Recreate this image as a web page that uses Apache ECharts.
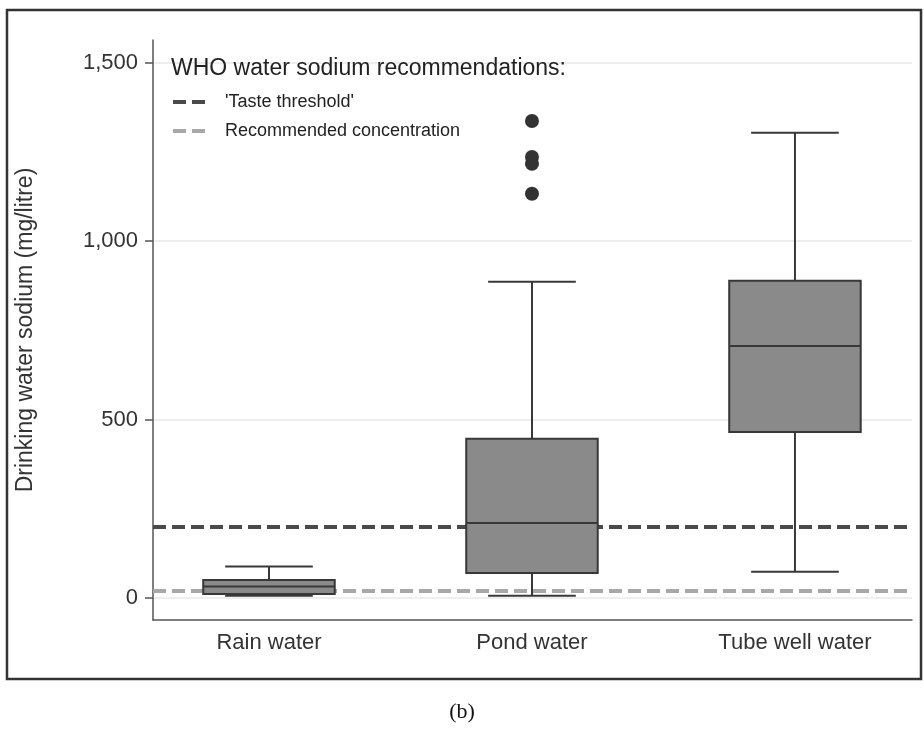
<!DOCTYPE html>
<html><head><meta charset="utf-8">
<script src="https://cdn.jsdelivr.net/npm/echarts@6/dist/echarts.min.js"></script>
<style>html,body{margin:0;padding:0;background:#fff}#chart{width:924px;height:731px}</style>
</head><body><div id="chart"></div>
<script>
const categories = ['Rain water', 'Pond water', 'Tube well water'];
const boxMin = [6, 6, 73];
const boxQ1 = [11, 70, 465];
const boxMedian = [32, 210, 706];
const boxQ3 = [50, 446, 889];
const boxMax = [88, 886, 1304];
const pondOutliers = [1337, 1236, 1217, 1133];
const yTicks = [0, 500, 1000, 1500];
const tasteThreshold = 200;
const recommendedConcentration = 20;

const boxData = categories.map((c, i) => [i + 1, boxMin[i], boxQ1[i], boxMedian[i], boxQ3[i], boxMax[i]]);
const outlierData = pondOutliers.map(v => [2, v]);

const FONT = 'Liberation Sans, Arial, sans-serif';
const EDGE = '#383838';
const DASH = [13, 6];

function renderBox(params, api) {
  const x = api.value(0);
  const pMin = api.coord([x, api.value(1)]);
  const pQ1 = api.coord([x, api.value(2)]);
  const pMed = api.coord([x, api.value(3)]);
  const pQ3 = api.coord([x, api.value(4)]);
  const pMax = api.coord([x, api.value(5)]);
  const boxW = api.size([0.5, 0])[0];
  const capW = api.size([1 / 3, 0])[0];
  const cx = pMed[0];
  const ls = { stroke: EDGE, lineWidth: 2 };
  return {
    type: 'group',
    children: [
      { type: 'line', shape: { x1: cx, y1: pQ3[1], x2: cx, y2: pMax[1] }, style: ls },
      { type: 'line', shape: { x1: cx - capW / 2, y1: pMax[1], x2: cx + capW / 2, y2: pMax[1] }, style: ls },
      { type: 'line', shape: { x1: cx, y1: pQ1[1], x2: cx, y2: pMin[1] }, style: ls },
      { type: 'line', shape: { x1: cx - capW / 2, y1: pMin[1], x2: cx + capW / 2, y2: pMin[1] }, style: ls },
      { type: 'rect', shape: { x: cx - boxW / 2, y: pQ3[1], width: boxW, height: pQ1[1] - pQ3[1] }, style: { fill: '#8a8a8a', stroke: EDGE, lineWidth: 2 } },
      { type: 'line', shape: { x1: cx - boxW / 2, y1: pMed[1], x2: cx + boxW / 2, y2: pMed[1] }, style: ls }
    ]
  };
}

const chart = echarts.init(document.getElementById('chart'));
chart.setOption({
  animation: false,
  backgroundColor: '#fff',
  title: {
    text: 'WHO water sodium recommendations:',
    left: 171, top: 57, padding: 0,
    textStyle: { fontSize: 23, fontWeight: 'normal', color: '#222', fontFamily: FONT }
  },
  legend: {
    left: 171, top: 93, orient: 'vertical', padding: 0,
    itemWidth: 33, itemHeight: 16, itemGap: 11,
    itemStyle: { opacity: 0 },
    lineStyle: { type: DASH, width: 4 },
    textStyle: { fontSize: 18, color: '#222', fontFamily: FONT, padding: [0, 0, 0, 14] },
    data: ["'Taste threshold'", 'Recommended concentration']
  },
  grid: { left: 153, right: 12, top: 40, bottom: 111, containLabel: false },
  xAxis: {
    type: 'value', min: 0.559, max: 3.445,
    axisLine: { show: true, onZero: false, lineStyle: { color: '#555', width: 1.5 } },
    axisTick: { show: false },
    splitLine: { show: false },
    axisLabel: {
      customValues: [1, 2, 3], margin: 12,
      formatter: v => categories[Math.round(v) - 1],
      fontSize: 22, color: '#333', fontFamily: FONT
    }
  },
  yAxis: {
    type: 'value', min: -62, max: 1564,
    name: 'Drinking water sodium (mg/litre)', nameLocation: 'middle', nameGap: 116,
    nameTextStyle: { fontSize: 23, color: '#333', fontFamily: FONT },
    axisLine: { show: true, onZero: false, lineStyle: { color: '#555', width: 1.5 } },
    axisTick: { show: true, customValues: yTicks, length: 8, lineStyle: { color: '#555', width: 1.5 } },
    splitLine: { show: true, lineStyle: { color: '#e8e8e8', width: 1.5 } },
    axisLabel: {
      customValues: yTicks, margin: 15,
      formatter: v => v.toLocaleString('en-US'),
      fontSize: 22, color: '#333', fontFamily: FONT
    }
  },
  graphic: [
    { type: 'rect', shape: { x: 7, y: 10, width: 914, height: 669 }, style: { fill: 'none', stroke: '#333', lineWidth: 2.5 }, silent: true },
    { type: 'text', x: 462, y: 712, style: { text: '(b)', fontSize: 22, fontFamily: 'Liberation Serif, serif', fill: '#111', align: 'center', verticalAlign: 'middle' } }
  ],
  series: [
    {
      type: 'line', name: "'Taste threshold'", data: [], symbol: 'none', z: 1,
      lineStyle: { color: '#4a4a4a', width: 4, type: DASH }, itemStyle: { color: '#4a4a4a' },
      markLine: {
        silent: true, symbol: 'none', label: { show: false },
        lineStyle: { color: '#4a4a4a', width: 4, type: DASH },
        data: [{ yAxis: tasteThreshold }]
      }
    },
    {
      type: 'line', name: 'Recommended concentration', data: [], symbol: 'none', z: 1,
      lineStyle: { color: '#a8a8a8', width: 4, type: DASH }, itemStyle: { color: '#a8a8a8' },
      markLine: {
        silent: true, symbol: 'none', label: { show: false },
        lineStyle: { color: '#a8a8a8', width: 4, type: DASH },
        data: [{ yAxis: recommendedConcentration }]
      }
    },
    {
      type: 'custom', name: 'box', renderItem: renderBox, data: boxData, z: 10,
      encode: { x: 0, y: [1, 2, 3, 4, 5] }
    },
    {
      type: 'scatter', name: 'outliers', data: outlierData, symbolSize: 14, z: 11,
      itemStyle: { color: '#333', opacity: 1 }
    }
  ]
});
</script>
</body></html>
